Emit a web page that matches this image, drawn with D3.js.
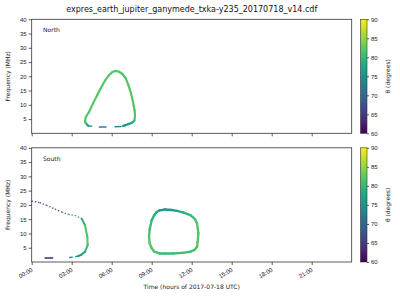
<!DOCTYPE html>
<html>
<head>
<meta charset="utf-8">
<script src="https://cdn.jsdelivr.net/npm/d3@7"></script>
<style>
  body { margin: 0; background: #fff; }
  svg { font-family: "DejaVu Sans", sans-serif; }
  .axis path, .axis line { stroke: #333; stroke-width: 0.8; }
  .axis text { fill: #222; font-size: 6px; }
</style>
</head>
<body>
<svg id="chart" width="400" height="300"></svg>
<script>
// hour of day, frequency (MHz), theta (degrees); [null] = break
const northLoop = [
  [4.25,2.6,76],[4.05,3.6,80],[4.0,4.5,82],[4.07,5.8,82],[4.3,7.5,82],[4.6,10.5,82],
  [4.9,13.3,82],[5.2,16.0,82],[5.5,18.5,82],[5.8,20.4,82],[6.05,21.5,82],[6.3,21.9,82],
  [6.55,21.6,82],[6.8,20.8,82],[7.05,19.3,82],[7.25,17.0,82],[7.45,14.0,82],[7.6,11.0,82],
  [7.72,8.0,82],[7.75,6.0,82],[7.7,4.5,81],[7.55,3.8,79],[7.3,3.3,77],[7.0,2.8,76],[6.85,2.6,75]
];
const northDashes = [
  [4.25,2.6,75],[4.5,2.5,74],[null],[5.07,2.2,73],[5.57,2.2,73],[null],[6.25,2.3,75],[6.7,2.4,75]
];
const southArcDotted = [
  [0,21.3,66],[0.6,20.8,66],[1.1,19.9,67],[1.75,18.5,68],[2.25,17.5,69],
  [2.75,16.7,72],[3.25,16.3,75],[3.75,15.2,78]
];
const southArc = [
  [3.75,15.2,78],[4.0,12.9,81],[4.17,8.8,82],[4.2,5.9,82],[4.0,3.6,79],[3.7,2.5,77],[3.5,2.1,76]
];
const southArcBottom = [
  [3.5,2.1,76],[3.3,1.9,75],[null],[3.05,1.7,74],[2.85,1.6,74]
];
const southLow = [[1.0,1.4,63],[1.57,1.4,63]];
const southLoop = [
  [9.37,17.5,79],[9.6,18.1,77],[10.0,18.4,76],[10.5,18.2,76],[10.9,17.9,77],[11.4,17.3,79],
  [11.9,16.4,80],[12.25,15.0,81],[12.4,13.5,82],[12.5,10,82],[12.45,7,82],[12.4,5.3,82],
  [12.2,4.2,81],[11.9,3.6,81],[11.3,3.2,81],[10.6,3.0,81],[10.0,3.0,80],[9.6,3.0,81],
  [9.2,3.6,81],[9.0,4.8,82],[8.85,6.5,82],[8.8,8.8,82],[8.85,11.5,81],[9.0,14.6,80],
  [9.2,16.5,79],[9.37,17.5,79]
];
const xTicks = [0,3,6,9,12,15,18,21];
const yTicks = [5,10,15,20,25,30,35,40];
const cbTicks = [60,65,70,75,80,85,90];
const title = 'expres_earth_jupiter_ganymede_txka-y235_20170718_v14.cdf';

const svg = d3.select('#chart');
const left = 31.7, right = 351.7;
const cbX = 360.5, cbW = 6.5;
const panels = [
  {name: 'North', top: 19.3, bottom: 133.3, labels: false,
   curves: [{d: northLoop, w: 2.2}, {d: northDashes, w: 1.4}]},
  {name: 'South', top: 147.8, bottom: 262, labels: true,
   curves: [{d: southArcDotted, w: 1.3, dash: '1.3,1.9'}, {d: southArc, w: 2.1},
            {d: southArcBottom, w: 1.4}, {d: southLow, w: 1.4}, {d: southLoop, w: 2.4}]}
];

const x = d3.scaleLinear().domain([0, 24]).range([left, right]);
const color = d3.scaleSequential(d3.interpolateViridis).domain([60, 90]);

svg.append('text')
  .attr('x', (left + right) / 2).attr('y', 12)
  .attr('text-anchor', 'middle')
  .style('font-size', '8px').style('fill', '#111')
  .text(title);

// gradient for colorbars
const grad = svg.append('defs').append('linearGradient')
  .attr('id', 'vir').attr('x1', 0).attr('y1', 1).attr('x2', 0).attr('y2', 0);
d3.range(0, 1.01, 0.1).forEach(t => {
  grad.append('stop').attr('offset', t).attr('stop-color', d3.interpolateViridis(t));
});

panels.forEach(p => {
  const y = d3.scaleLinear().domain([0, 40]).range([p.bottom, p.top]);
  const g = svg.append('g');

  // marks
  p.curves.forEach(c => {
    for (let i = 0; i < c.d.length - 1; i++) {
      const a = c.d[i], b = c.d[i + 1];
      if (a[0] == null || b[0] == null) continue;
      g.append('line')
        .attr('x1', x(a[0])).attr('y1', y(a[1]))
        .attr('x2', x(b[0])).attr('y2', y(b[1]))
        .attr('stroke', color((a[2] + b[2]) / 2))
        .attr('stroke-width', c.w)
        .attr('stroke-linecap', c.dash ? 'butt' : 'round')
        .attr('stroke-dasharray', c.dash || null);
    }
  });

  // frame
  g.append('rect')
    .attr('x', left).attr('y', p.top)
    .attr('width', right - left).attr('height', p.bottom - p.top)
    .attr('fill', 'none').attr('stroke', '#333').attr('stroke-width', 0.8);

  const ya = g.append('g').attr('class', 'axis')
    .attr('transform', `translate(${left},0)`)
    .call(d3.axisLeft(y).tickValues(yTicks).tickSize(3).tickPadding(2));
  ya.select('.domain').remove();

  const xa = g.append('g').attr('class', 'axis')
    .attr('transform', `translate(0,${p.bottom})`)
    .call(d3.axisBottom(x).tickValues(xTicks).tickSize(3)
      .tickFormat(d => p.labels ? String(d).padStart(2, '0') + ':00' : ''));
  xa.select('.domain').remove();
  if (p.labels) {
    xa.selectAll('text')
      .attr('text-anchor', 'end')
      .attr('dy', null).attr('y', 0).attr('x', 0)
      .attr('transform', 'translate(-1,5.5) rotate(-30)')
      .attr('dominant-baseline', 'hanging');
  }

  g.append('text')
    .attr('x', 43).attr('y', p.top + 13)
    .style('font-size', '6px').style('fill', '#222')
    .text(p.name);

  g.append('text')
    .attr('transform', `translate(10,${(p.top + p.bottom) / 2}) rotate(-90)`)
    .attr('text-anchor', 'middle')
    .style('font-size', '6px').style('fill', '#222')
    .text('Frequency (MHz)');

  // colorbar
  const cy = d3.scaleLinear().domain([60, 90]).range([p.bottom, p.top]);
  g.append('rect')
    .attr('x', cbX).attr('y', p.top)
    .attr('width', cbW).attr('height', p.bottom - p.top)
    .attr('fill', 'url(#vir)').attr('stroke', '#333').attr('stroke-width', 0.6);
  const ca = g.append('g').attr('class', 'axis')
    .attr('transform', `translate(${cbX + cbW},0)`)
    .call(d3.axisRight(cy).tickValues(cbTicks).tickSize(2).tickPadding(2));
  ca.select('.domain').remove();
  g.append('text')
    .attr('transform', `translate(390,${(p.top + p.bottom) / 2}) rotate(-90)`)
    .attr('text-anchor', 'middle')
    .style('font-size', '6px').style('fill', '#222')
    .text('θ (degrees)');
});

svg.append('text')
  .attr('x', (left + right) / 2).attr('y', 289)
  .attr('text-anchor', 'middle')
  .style('font-size', '6px').style('fill', '#222')
  .text('Time (hours of 2017-07-18 UTC)');
</script>
</body>
</html>
